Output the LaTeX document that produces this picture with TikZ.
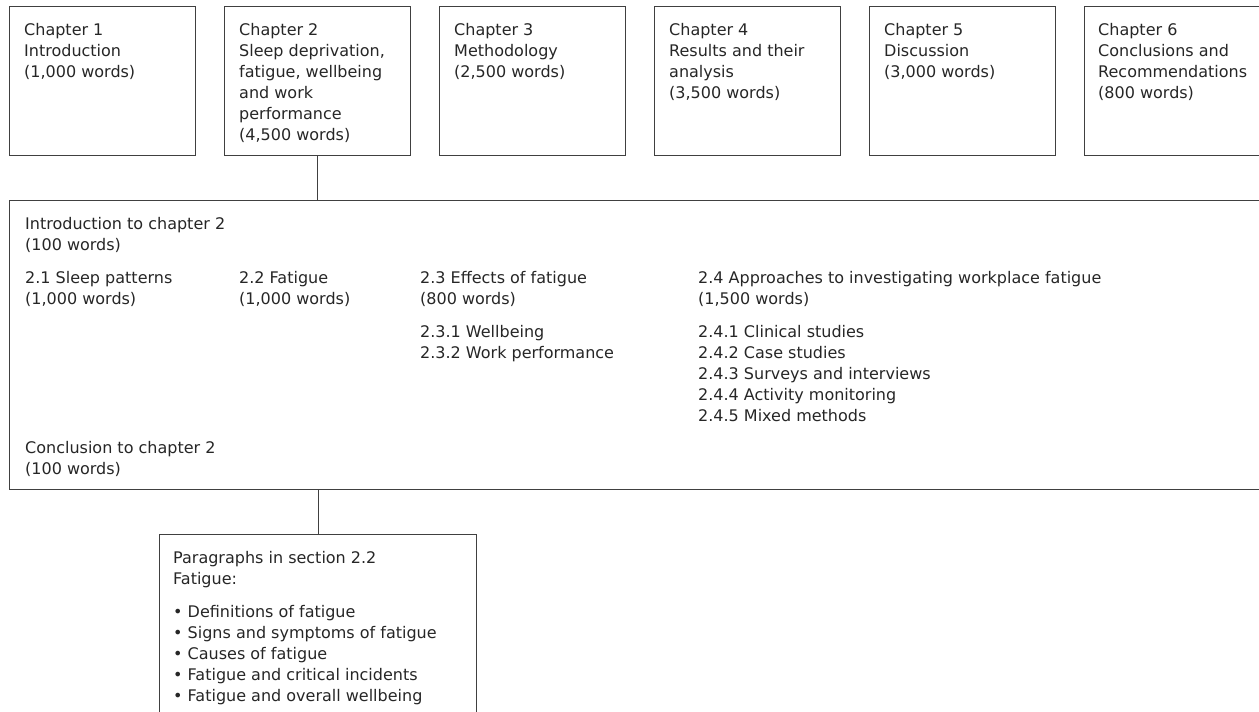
\documentclass[tikz,border=0pt]{standalone}
\usepackage{fontspec}
\setmainfont{DejaVu Sans}
\usetikzlibrary{positioning}
\begin{document}
\begin{tikzpicture}[x=1pt,y=-1pt,
    box/.style={rectangle,draw=black!75,line width=1pt,inner sep=0pt,anchor=north west},
    chbox/.style={box,minimum width=186pt,minimum height=149pt},
    txt/.style={anchor=north west,inner sep=0pt,align=left,text=black!85,
      font=\fontsize{16}{21}\selectfont}]
    \useasboundingbox (0,0) rectangle (1259,712);
    % chapters
    \node[chbox] (ch1) at (9,6) {};
    \node[chbox] (ch2) at (224,6) {};
    \node[chbox] (ch3) at (439,6) {};
    \node[chbox] (ch4) at (654,6) {};
    \node[chbox] (ch5) at (869,6) {};
    \node[chbox] (ch6) at (1084,6) {};
    \node[txt,below right=17pt and 15pt of ch1.north west] (ch1t)
      {Chapter 1\\Introduction\\(1,000 words)};
    \node[txt,below right=17pt and 15pt of ch2.north west] (ch2t)
      {Chapter 2\\Sleep deprivation,\\fatigue, wellbeing\\and work\\performance\\(4,500 words)};
    \node[txt,below right=17pt and 15pt of ch3.north west] (ch3t)
      {Chapter 3\\Methodology\\(2,500 words)};
    \node[txt,below right=17pt and 15pt of ch4.north west] (ch4t)
      {Chapter 4\\Results and their\\analysis\\(3,500 words)};
    \node[txt,below right=17pt and 15pt of ch5.north west] (ch5t)
      {Chapter 5\\Discussion\\(3,000 words)};
    \node[txt,below right=17pt and 14pt of ch6.north west] (ch6t)
      {Chapter 6\\Conclusions and\\Recommendations\\(800 words)};
    % chapter 2 in detail
    \node[box,minimum width=1261pt,minimum height=289pt] (body) at (9,200) {};
    \node[txt,below right=17pt and 16pt of body.north west] (intro)
      {Introduction to chapter 2\\(100 words)};
    \node[txt,below right=71pt and 16pt of body.north west] (sec21)
      {2.1 Sleep patterns\\(1,000 words)};
    \node[txt,below right=71pt and 230pt of body.north west] (sec22)
      {2.2 Fatigue\\(1,000 words)};
    \node[txt,below right=71pt and 411pt of body.north west] (sec23)
      {2.3 Effects of fatigue\\(800 words)\\[12pt]2.3.1 Wellbeing\\2.3.2 Work performance};
    \node[txt,below right=71pt and 689pt of body.north west] (sec24)
      {2.4 Approaches to investigating workplace fatigue\\(1,500 words)\\[12pt]%
       2.4.1 Clinical studies\\2.4.2 Case studies\\2.4.3 Surveys and interviews\\%
       2.4.4 Activity monitoring\\2.4.5 Mixed methods};
    \node[txt,below right=241pt and 16pt of body.north west] (concl)
      {Conclusion to chapter 2\\(100 words)};
    % section 2.2 in detail
    \node[box,minimum width=317pt,minimum height=190pt] (para) at (159,534) {};
    \node[txt,below right=17pt and 14pt of para.north west] (parat)
      {Paragraphs in section 2.2\\Fatigue:\\[12pt]%
       \textbullet\ Definitions of fatigue\\\textbullet\ Signs and symptoms of fatigue\\%
       \textbullet\ Causes of fatigue\\\textbullet\ Fatigue and critical incidents\\%
       \textbullet\ Fatigue and overall wellbeing};
    % links
    \draw[black!75,line width=1pt] (ch2.south) -- (ch2.south |- body.north);
    \draw[black!75,line width=1pt] (body.south -| para.north) -- (para.north);
  \end{tikzpicture}
\end{document}
